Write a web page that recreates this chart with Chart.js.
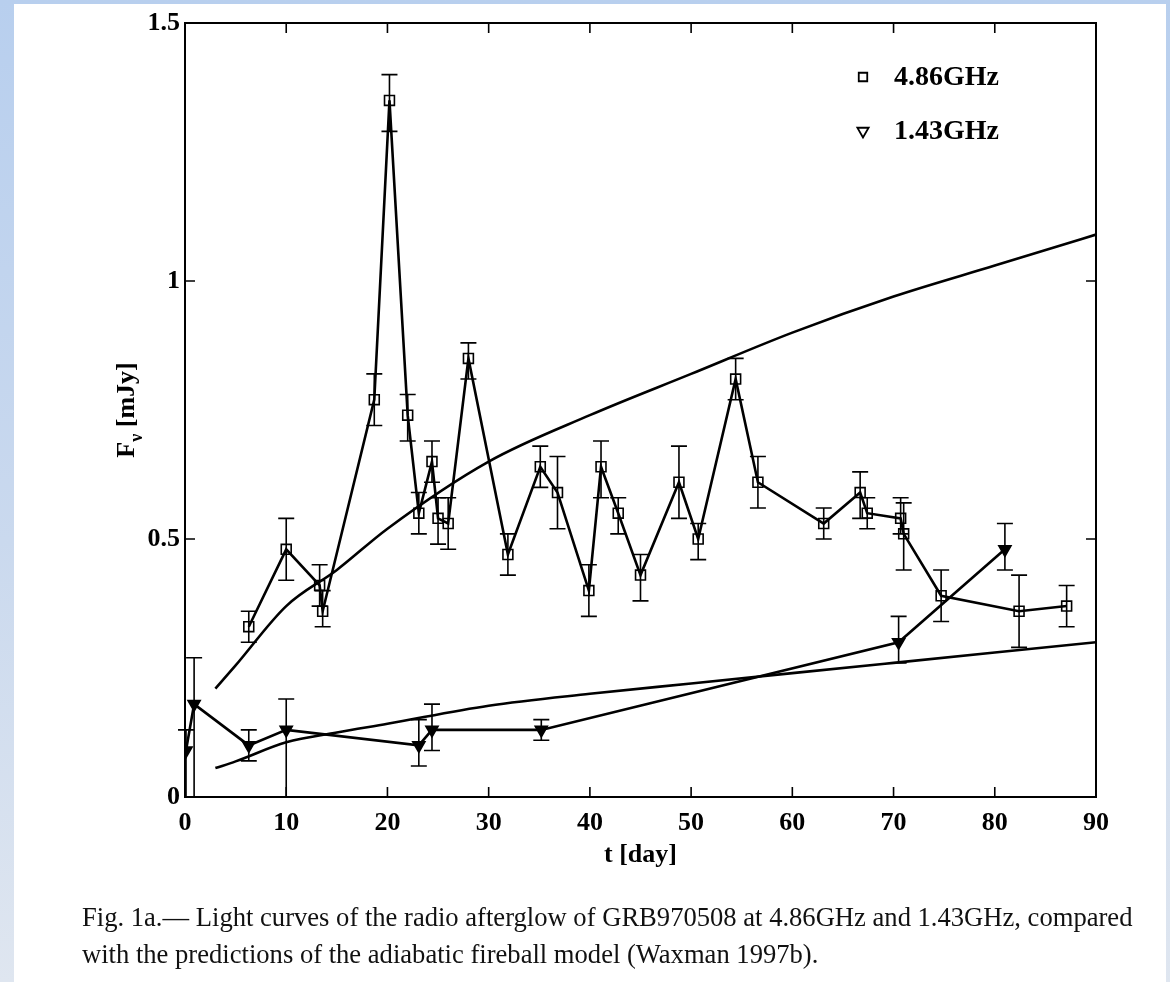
<!DOCTYPE html>
<html>
<head>
<meta charset="utf-8">
<title>GRB970508 radio light curves</title>
<script src="https://cdn.jsdelivr.net/npm/chart.js@4.4.1/dist/chart.umd.min.js"></script>
<style>
  html, body { margin: 0; padding: 0; }
  body {
    width: 1170px; height: 982px; overflow: hidden; position: relative;
    background: linear-gradient(to bottom, #b8cfee 0%, #cad9ee 55%, #dfe6f0 100%);
    font-family: 'Liberation Serif', 'DejaVu Serif', serif;
  }
  #sheet { position: absolute; left: 14px; top: 4px; width: 1152px; height: 978px; background: #fff; }
  #wrap { position: absolute; left: 0; top: 0; width: 1170px; height: 982px; }
  #caption {
    position: absolute; left: 82px; top: 899px;
    font-size: 26.6px; line-height: 37px; color: #111; white-space: nowrap;
  }
</style>
</head>
<body>
<div id="sheet"></div>
<div id="wrap"><canvas id="lc" width="1170" height="982"></canvas></div>
<div id="caption">Fig. 1a.— Light curves of the radio afterglow of GRB970508 at 4.86GHz and 1.43GHz, compared<br>with the predictions of the adiabatic fireball model (Waxman 1997b).</div>

<script>
// 4.86 GHz measurements (day, mJy, error bar ends)
const days486 = [6.3, 10.0, 13.3, 13.6, 18.7, 20.2, 22.0, 23.1, 24.4, 25.0, 26.0, 28.0, 31.9, 35.1, 36.8,
  39.9, 41.1, 42.8, 45.0, 48.8, 50.7, 54.4, 56.6, 63.1, 66.7, 67.4, 70.7, 71.0, 74.7, 82.4, 87.1];
const flux486 = [0.33, 0.48, 0.41, 0.36, 0.77, 1.35, 0.74, 0.55, 0.65, 0.54, 0.53, 0.85, 0.47, 0.64, 0.59,
  0.40, 0.64, 0.55, 0.43, 0.61, 0.50, 0.81, 0.61, 0.53, 0.59, 0.55, 0.54, 0.51, 0.39, 0.36, 0.37];
const hi486 = [0.36, 0.54, 0.45, 0.40, 0.82, 1.40, 0.78, 0.59, 0.69, 0.58, 0.58, 0.88, 0.51, 0.68, 0.66,
  0.45, 0.69, 0.58, 0.47, 0.68, 0.53, 0.85, 0.66, 0.56, 0.63, 0.58, 0.58, 0.57, 0.44, 0.43, 0.41];
const lo486 = [0.30, 0.42, 0.37, 0.33, 0.72, 1.29, 0.69, 0.51, 0.61, 0.49, 0.48, 0.81, 0.43, 0.60, 0.52,
  0.35, 0.58, 0.51, 0.38, 0.54, 0.46, 0.77, 0.56, 0.50, 0.54, 0.52, 0.51, 0.44, 0.34, 0.29, 0.33];

// 1.43 GHz measurements
const days143 = [0.1, 0.9, 6.3, 10.0, 23.1, 24.4, 35.2, 70.5, 81.0];
const flux143 = [0.09, 0.18, 0.10, 0.13, 0.10, 0.13, 0.13, 0.30, 0.48];
const hi143 = [0.13, 0.27, 0.13, 0.19, 0.15, 0.18, 0.15, 0.35, 0.53];
const lo143 = [0.00, 0.00, 0.07, 0.00, 0.06, 0.09, 0.11, 0.26, 0.44];

// adiabatic fireball model curves
const modelDays = [3, 5, 10, 15, 20, 30, 40, 50, 60, 70, 80, 90];
const model486 = [0.21, 0.255, 0.37, 0.44, 0.52, 0.65, 0.74, 0.82, 0.90, 0.97, 1.03, 1.09];
const model143 = [0.056, 0.069, 0.106, 0.125, 0.142, 0.177, 0.20, 0.22, 0.24, 0.26, 0.28, 0.30];

const xTicks = [0, 10, 20, 30, 40, 50, 60, 70, 80, 90];
const yTicks = [0, 0.5, 1, 1.5];

const FONT = "'Liberation Serif', 'DejaVu Serif', serif";
const pts = (xs, ys) => xs.map((x, i) => ({ x: x, y: ys[i] }));

// vertical error bars with caps
const errorBars = {
  id: 'errorBars',
  afterDatasetsDraw(chart) {
    const { ctx, scales: { x, y } } = chart;
    ctx.save();
    ctx.strokeStyle = '#000';
    ctx.lineWidth = 1.6;
    chart.data.datasets.forEach((ds) => {
      if (!ds.errHi) return;
      ds.data.forEach((p, i) => {
        const px = x.getPixelForValue(p.x);
        const top = y.getPixelForValue(ds.errHi[i]);
        const bot = y.getPixelForValue(ds.errLo[i]);
        ctx.beginPath();
        ctx.moveTo(px, top); ctx.lineTo(px, bot);
        ctx.moveTo(px - 8, top); ctx.lineTo(px + 8, top);
        if (ds.errLo[i] > 0) { ctx.moveTo(px - 8, bot); ctx.lineTo(px + 8, bot); }
        ctx.stroke();
      });
    });
    ctx.restore();
  }
};

// box frame, inward ticks, axis titles, legend
const frame = {
  id: 'frame',
  afterDraw(chart) {
    const { ctx, chartArea: a, scales: { x, y } } = chart;
    ctx.save();
    ctx.strokeStyle = '#000';
    ctx.lineWidth = 2;
    ctx.strokeRect(a.left, a.top, a.right - a.left, a.bottom - a.top);
    ctx.lineWidth = 1.6;
    ctx.beginPath();
    xTicks.slice(1, -1).forEach((t) => {
      const px = x.getPixelForValue(t);
      ctx.moveTo(px, a.bottom); ctx.lineTo(px, a.bottom - 10);
      ctx.moveTo(px, a.top); ctx.lineTo(px, a.top + 10);
    });
    yTicks.slice(1, -1).forEach((t) => {
      const py = y.getPixelForValue(t);
      ctx.moveTo(a.left, py); ctx.lineTo(a.left + 10, py);
      ctx.moveTo(a.right, py); ctx.lineTo(a.right - 10, py);
    });
    ctx.stroke();

    ctx.fillStyle = '#000';
    ctx.font = 'bold 26px ' + FONT;
    ctx.textAlign = 'center';
    ctx.textBaseline = 'alphabetic';
    ctx.fillText('t [day]', (a.left + a.right) / 2, 862);

    // F_nu [mJy], rotated
    ctx.translate(134, (a.top + a.bottom) / 2);
    ctx.rotate(-Math.PI / 2);
    ctx.textAlign = 'left';
    const wF = ctx.measureText('F').width;
    ctx.font = 'bold 18px ' + FONT;
    const wNu = ctx.measureText('ν').width;
    ctx.font = 'bold 26px ' + FONT;
    const wRest = ctx.measureText(' [mJy]').width;
    const sx = -(wF + wNu + wRest) / 2;
    ctx.fillText('F', sx, 0);
    ctx.font = 'bold 18px ' + FONT;
    ctx.fillText('ν', sx + wF, 8);
    ctx.font = 'bold 26px ' + FONT;
    ctx.fillText(' [mJy]', sx + wF + wNu, 0);
    ctx.setTransform(1, 0, 0, 1, 0, 0);

    // legend, hollow symbols
    const rows = [chart.data.datasets[0], chart.data.datasets[1]];
    rows.forEach((ds, i) => {
      const ly = a.top + 54 + i * 54;
      const lx = a.right - 233;
      ctx.strokeStyle = '#000';
      ctx.fillStyle = '#fff';
      ctx.lineWidth = 1.8;
      Chart.helpers.drawPoint(ctx, {
        pointStyle: ds.pointStyle, radius: i === 0 ? 6 : 6.5, rotation: ds.pointRotation || 0,
        borderWidth: 1.8
      }, lx, ly);
      ctx.fillStyle = '#000';
      ctx.font = 'bold 28px ' + FONT;
      ctx.textAlign = 'left';
      ctx.textBaseline = 'middle';
      ctx.fillText(ds.label, lx + 31, ly + 1);
    });
    ctx.restore();
  }
};

const tickFont = { family: FONT, size: 26, weight: 'bold' };

new Chart(document.getElementById('lc'), {
  type: 'line',
  data: {
    datasets: [
      {
        label: '4.86GHz', data: pts(days486, flux486), errHi: hi486, errLo: lo486,
        borderColor: '#000', borderWidth: 2.6,
        pointStyle: 'rect', pointRadius: 7, pointBorderWidth: 1.6,
        pointBorderColor: '#000', pointBackgroundColor: 'rgba(255,255,255,0)'
      },
      {
        label: '1.43GHz', data: pts(days143, flux143), errHi: hi143, errLo: lo143,
        borderColor: '#000', borderWidth: 2.6,
        pointStyle: 'triangle', pointRotation: 180, pointRadius: 7, pointBorderWidth: 1.6,
        pointBorderColor: '#000', pointBackgroundColor: '#000'
      },
      {
        label: 'model 4.86GHz', data: pts(modelDays, model486),
        borderColor: '#000', borderWidth: 2.6, pointRadius: 0, cubicInterpolationMode: 'monotone'
      },
      {
        label: 'model 1.43GHz', data: pts(modelDays, model143),
        borderColor: '#000', borderWidth: 2.6, pointRadius: 0, cubicInterpolationMode: 'monotone'
      }
    ]
  },
  options: {
    responsive: false,
    animation: false,
    devicePixelRatio: 1,
    layout: { padding: { top: 23, right: 74, left: 0, bottom: 0 } },
    plugins: { legend: { display: false }, tooltip: { enabled: false } },
    scales: {
      x: {
        type: 'linear', min: 0, max: 90,
        afterBuildTicks: (s) => { s.ticks = xTicks.map((v) => ({ value: v })); },
        ticks: { color: '#000', font: tickFont, padding: 11, maxRotation: 0, callback: (v) => String(v) },
        grid: { display: false, drawTicks: false },
        border: { display: false },
        afterFit: (s) => { s.height = 185; }
      },
      y: {
        type: 'linear', min: 0, max: 1.5,
        afterBuildTicks: (s) => { s.ticks = yTicks.map((v) => ({ value: v })); },
        ticks: { color: '#000', font: tickFont, padding: 5, callback: (v) => String(v) },
        grid: { display: false, drawTicks: false },
        border: { display: false },
        afterFit: (s) => { s.width = 185; }
      }
    }
  },
  plugins: [errorBars, frame]
});
</script>
</body>
</html>
